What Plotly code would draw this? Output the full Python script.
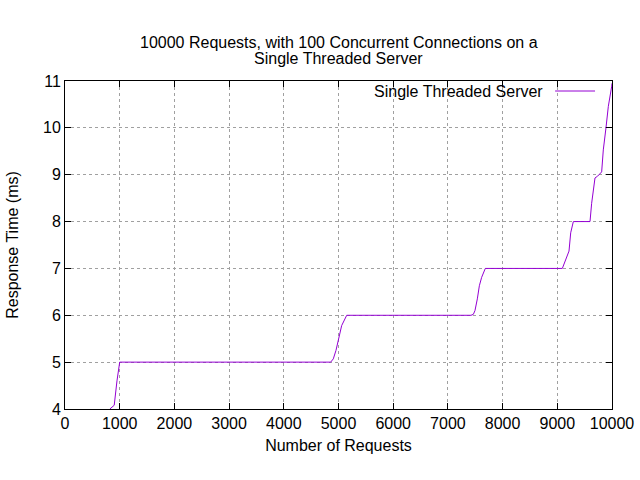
import plotly.graph_objects as go

requests = [820, 900, 950, 1000, 4857, 4905, 4954, 4997, 5058, 5150,
            7422, 7465, 7495, 7538, 7575, 7617, 7684,
            9092, 9172, 9214, 9245, 9293, 9598, 9628, 9689, 9738, 9811,
            9841, 9890, 9933, 9995, 10000]
response_ms = [4.0, 4.08, 4.6, 5.0, 5.0, 5.07, 5.25, 5.5, 5.78, 6.0,
               6.0, 6.02, 6.1, 6.35, 6.63, 6.81, 7.0,
               7.0, 7.23, 7.37, 7.76, 8.0, 8.0, 8.39, 8.93, 8.97, 9.06,
               9.53, 10.0, 10.46, 10.89, 10.95]
x_ticks = [0, 1000, 2000, 3000, 4000, 5000, 6000, 7000, 8000, 9000, 10000]
x_tick_labels = [str(v) for v in x_ticks]
y_ticks = [4, 5, 6, 7, 8, 9, 10, 11]
series_name = "Single Threaded Server"
title_lines = ["10000 Requests, with 100 Concurrent Connections on a", "Single Threaded Server"]

FONT = "Liberation Sans, Arial, sans-serif"
COLOR = "#9400D3"
FS = 16

fig = go.Figure()
fig.add_trace(go.Scatter(x=requests, y=response_ms, mode="lines", name=series_name,
                         line=dict(color=COLOR, width=1), showlegend=False))

axis_common = dict(showline=True, linecolor="black", linewidth=1, mirror="ticks",
                   ticks="inside", ticklen=6, tickcolor="black", automargin=False,
                   showgrid=True, gridcolor="#a0a0a0", griddash="dot", gridwidth=1,
                   zeroline=False, tickfont=dict(family=FONT, size=FS, color="black"))

fig.update_layout(
    template="none",
    width=640, height=480,
    margin=dict(l=65, r=28, t=81, b=71),
    paper_bgcolor="white", plot_bgcolor="white",
    xaxis=dict(range=[0, 10000], tickvals=x_ticks, ticktext=x_tick_labels,
               title=dict(text="Number of Requests", font=dict(family=FONT, size=FS, color="black"),
                          standoff=8),
               **axis_common),
    yaxis=dict(range=[4, 11], tickvals=y_ticks,
               title=dict(text="Response Time (ms)", font=dict(family=FONT, size=FS, color="black"),
                          standoff=20),
               **axis_common),
)

# title as two tightly spaced lines (gnuplot style)
for line, ypx in zip(title_lines, [43, 58]):
    fig.add_annotation(text=line, xref="paper", yref="paper", x=0.5, y=(409 - ypx) / 328,
                       xanchor="center", yanchor="middle", showarrow=False,
                       font=dict(family=FONT, size=FS, color="black"))

# gnuplot-style key: text followed by line sample, top right
fig.add_annotation(text=series_name, xref="paper", yref="paper", x=0.8775, y=0.9695,
                   xanchor="right", yanchor="middle", showarrow=False,
                   font=dict(family=FONT, size=FS, color="black"))
fig.add_shape(type="line", xref="paper", yref="paper", x0=0.896, x1=0.969, y0=0.9695, y1=0.9695,
              line=dict(color=COLOR, width=1))

fig.write_html("out.html")
